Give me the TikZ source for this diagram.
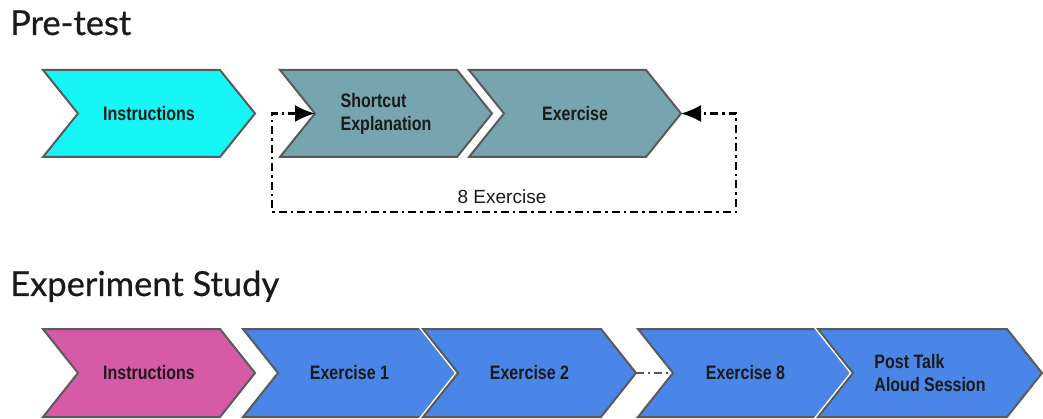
\documentclass[tikz,border=0pt]{standalone}
\usepackage{fontspec}
\setmainfont{Liberation Sans}
\newfontfamily\titlefont[FakeBold=0.6]{Lato}
\newfontfamily\boxfont[FakeStretch=0.82]{Liberation Sans}
\usetikzlibrary{arrows.meta}

\definecolor{cyanfill}{HTML}{16F6F6}
\definecolor{tealfill}{HTML}{76A5AF}
\definecolor{pinkfill}{HTML}{D65AA6}
\definecolor{bluefill}{HTML}{4A86E8}
\definecolor{edgegray}{HTML}{5A5A5A}
\definecolor{ink}{HTML}{1A1A1A}

\tikzset{
  chevhalo/.style={draw=white, line width=5pt, line join=miter},
  chevbody/.style={draw=edgegray, line width=2pt, line join=miter},
  boxtext/.style={font=\boxfont\bfseries\fontsize{19.5}{23}\selectfont, text=ink, align=left, inner sep=0pt},
  title/.style={font=\titlefont\fontsize{34.5}{40}\selectfont, text=ink, anchor=base west, inner sep=0pt},
  looplabel/.style={font=\fontsize{19}{22}\selectfont, text=ink, inner sep=0pt},
  looptip/.tip={Latex[length=20pt,width=17pt]},
  loopline/.style={draw=black, line width=2.2pt, dash pattern=on 8pt off 4pt on 2.5pt off 4pt, looptip-looptip},
  skipline/.style={draw=edgegray, line width=1.8pt, dash pattern=on 8pt off 4pt on 2pt off 4pt}
}

% #1 name, #2 left x, #3 tip x, #4 top y, #5 bottom y, #6 fill, #7 text
\newcommand{\chevronshape}[7]{%
  \coordinate (#1-notch) at ({#2+35},{(#4+#5)/2});
  \coordinate (#1-tip) at (#3,{(#4+#5)/2});
  \path[chevhalo] (#2,#4) -- ({#3-35},#4) -- (#1-tip) -- ({#3-35},#5) -- (#2,#5) -- (#1-notch) -- cycle;
  \path[chevbody, fill=#6] (#2,#4) -- ({#3-35},#4) -- (#1-tip) -- ({#3-35},#5) -- (#2,#5) -- (#1-notch) -- cycle;
  \node[boxtext] (#1) at ({(#2+#3)/2},{(#4+#5)/2}) {#7};
}

\begin{document}
\begin{tikzpicture}[x=1pt, y=-1pt]
  \useasboundingbox (0,0) rectangle (1043,419);

  % Pre-test row
  \node[title] (pretitle) at (10,35) {Pre-test};
  \chevronshape{preinstr}{43}{255}{70}{157}{cyanfill}{Instructions}
  \chevronshape{shortcut}{280}{492}{70}{157}{tealfill}{Shortcut\\Explanation}
  \chevronshape{preex}{469}{681}{70}{157}{tealfill}{Exercise}

  % repetition loop back to the explanation
  \coordinate (loopsw) at (272,212);
  \coordinate (loopse) at (736,212);
  \draw[loopline] (shortcut-notch) -| (loopsw) -- (loopse) |- (preex-tip);
  \node[looplabel] (reps) at (502,197) {8 Exercise};

  % Experiment study row
  \node[title] (exptitle) at (10,296) {Experiment Study};
  \chevronshape{expinstr}{43}{255}{329}{417}{pinkfill}{Instructions}
  \chevronshape{ex1}{243}{456}{329}{417}{bluefill}{Exercise 1}
  \chevronshape{ex2}{423}{636}{329}{417}{bluefill}{Exercise 2}
  \chevronshape{ex8}{638}{853}{329}{417}{bluefill}{Exercise 8}
  \chevronshape{post}{818}{1042}{329}{417}{bluefill}{Post Talk\\Aloud Session}

  \draw[skipline] (ex2-tip) -- (ex8-notch);
\end{tikzpicture}
\end{document}
